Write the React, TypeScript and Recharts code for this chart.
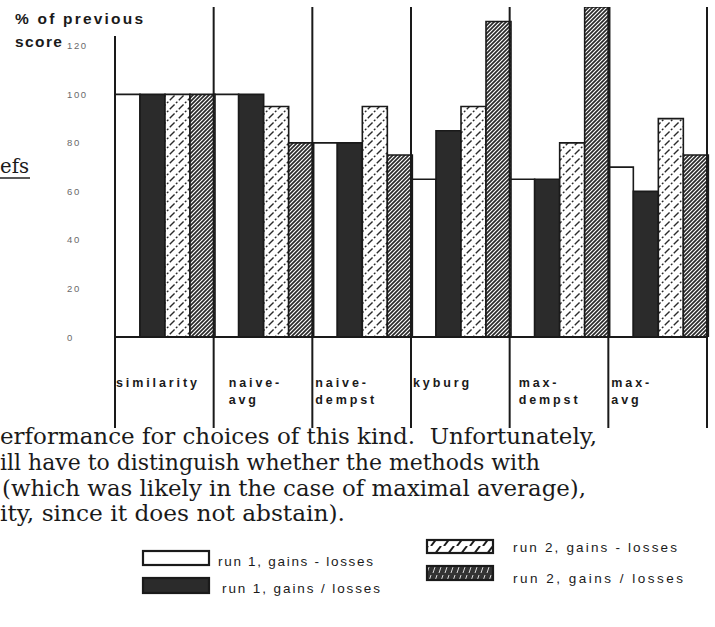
import React from 'react';
import { BarChart, Bar, XAxis, YAxis, Legend } from 'recharts';

// ---------- data ----------
const categories = ['similarity', 'naive-avg', 'naive-dempst', 'kyburg', 'max-dempst', 'max-avg'];
const categoryLabelLines = [
  ['similarity'],
  ['naive-', 'avg'],
  ['naive-', 'dempst'],
  ['kyburg'],
  ['max-', 'dempst'],
  ['max-', 'avg'],
];
const run1GainsMinusLosses = [100, 100, 80, 65, 65, 70];
const run1GainsOverLosses = [100, 100, 80, 85, 65, 60];
const run2GainsMinusLosses = [100, 95, 95, 95, 80, 90];
const run2GainsOverLosses = [100, 80, 75, 130, 136, 75];
const yTicks = [0, 20, 40, 60, 80, 100, 120];
const seriesNames = [
  'run 1, gains - losses',
  'run 1, gains / losses',
  'run 2, gains - losses',
  'run 2, gains / losses',
];
const yTitleLines = ['% of previous', 'score'];
const bodyLines = [
  'erformance for choices of this kind.  Unfortunately,',
  'ill have to distinguish whether the methods with',
  '(which was likely in the case of maximal average),',
  'ity, since it does not abstain).',
];
const sideFragment = 'efs';

const data = categories.map((c, i) => ({
  name: c,
  r1d: run1GainsMinusLosses[i],
  r1r: run1GainsOverLosses[i],
  r2d: run2GainsMinusLosses[i],
  r2r: run2GainsOverLosses[i],
}));

// ---------- layout / style ----------
const W = 715;
const H = 627;
const PLOT_TOP = 7;
const PLOT_BOTTOM = 337;
const PLOT_H = PLOT_BOTTOM - PLOT_TOP;
const labelIndent = [1, 15, 3, 2, 9, 3];
const sansBold = '"Liberation Sans", Arial, sans-serif';
const serif = '"DejaVu Serif", "Liberation Serif", serif';

const CategoryTick = (props: any) => {
  const { x, y, payload, index } = props;
  const half = payload && typeof payload.offset === 'number' && payload.offset > 0 ? payload.offset : 49.3;
  const left = x - half;
  const right = x + half;
  const lines = categoryLabelLines[index] || [String(payload.value)];
  const bottom = y + 91;
  return (
    <g>
      <line
        x1={left}
        x2={left}
        y1={index === 0 ? y - PLOT_H + 29 : y - PLOT_H}
        y2={bottom}
        stroke="#1a1a1a"
        strokeWidth={2}
      />
      {index === categories.length - 1 && (
        <line x1={right} x2={right} y1={y - PLOT_H} y2={bottom} stroke="#1a1a1a" strokeWidth={2} />
      )}
      {lines.map((t, k) => (
        <text
          key={k}
          x={left + labelIndent[index]}
          y={y + 50 + k * 17}
          fontFamily={sansBold}
          fontWeight="bold"
          fontSize={12.5}
          letterSpacing={2.9}
          fill="#1a1a1a"
        >
          {t}
        </text>
      ))}
    </g>
  );
};

const ValueTick = (props: any) => {
  const { y, payload } = props;
  return (
    <text
      x={67}
      y={y + 3.5}
      fontFamily={sansBold}
      fontSize={9.5}
      letterSpacing={1.6}
      fill="#6a6a6a"
    >
      {payload.value}
    </text>
  );
};

const legendBoxes = [
  { x: 143, y: 551, w: 66, h: 14, fill: '#ffffff', tx: 218, ty: 566, tw: 155 },
  { x: 143, y: 578, w: 66, h: 15, fill: '#2b2b2b', tx: 222, ty: 593, tw: 158 },
  { x: 427, y: 540, w: 66, h: 13, fill: 'url(#legHatchLight)', tx: 513, ty: 552, tw: 164 },
  { x: 427, y: 566, w: 66, h: 14, fill: 'url(#legHatchDense)', tx: 513, ty: 583, tw: 170 },
];

const renderLegend = () => (
  <svg width={W} height={H} style={{ position: 'absolute', left: 0, top: 0, overflow: 'visible' }}>
    {seriesNames.map((n, i) => {
      const b = legendBoxes[i];
      return (
        <g key={n}>
          <rect x={b.x} y={b.y} width={b.w} height={b.h} fill={b.fill} stroke="#1a1a1a" strokeWidth={2.2} />
          <text
            x={b.tx}
            y={b.ty}
            fontFamily={sansBold}
            fontSize={13.5}
            fill="#1a1a1a"
            textLength={b.tw}
            lengthAdjust="spacing"
          >
            {n}
          </text>
        </g>
      );
    })}
  </svg>
);

const bodyWidths = [597, 540, 584, 345];
const bodyX = [0, 0, 2, 0];
const bodyBaselines = [444, 470, 496, 521];

export default function App() {
  return (
    <div style={{ position: 'absolute', left: 0, top: 0, width: W, height: H, background: '#fff' }}>
      <svg width={0} height={0} style={{ position: 'absolute' }}>
        <defs>
          <pattern id="hatchLight" width={9} height={9} patternUnits="userSpaceOnUse">
            <rect width={9} height={9} fill="#fff" />
            <path d="M0,9 L9,0 M-1,1 L1,-1 M8,10 L10,8" stroke="#2a2a2a" strokeWidth={1.4} strokeDasharray="5 2 2 2" />
          </pattern>
          <pattern id="hatchDense" width={4} height={4} patternUnits="userSpaceOnUse">
            <rect width={4} height={4} fill="#fff" />
            <path d="M0,4 L4,0 M-1,1 L1,-1 M3,5 L5,3" stroke="#2a2a2a" strokeWidth={1.7} />
          </pattern>
          <pattern id="legHatchLight" width={13} height={13} patternUnits="userSpaceOnUse">
            <rect width={13} height={13} fill="#fff" />
            <path d="M2,13 L12,0" stroke="#1a1a1a" strokeWidth={2} />
          </pattern>
          <pattern id="legHatchDense" width={6} height={14} patternUnits="userSpaceOnUse">
            <rect width={6} height={14} fill="#333" />
            <path d="M1,13 L5,1" stroke="#ddd" strokeWidth={1} />
          </pattern>
        </defs>
      </svg>
      <BarChart
        width={W}
        height={H}
        data={data}
        margin={{ top: PLOT_TOP, right: 8, bottom: H - PLOT_BOTTOM - 30, left: 55 }}
        barCategoryGap={0}
        barGap={0}
      >
        <XAxis
          dataKey="name"
          height={30}
          tickLine={false}
          tickSize={0}
          tickMargin={0}
          axisLine={{ stroke: '#1a1a1a', strokeWidth: 2 }}
          tick={<CategoryTick />}
          interval={0}
        />
        <YAxis
          width={60}
          domain={[0, 136]}
          ticks={yTicks}
          axisLine={false}
          tickLine={false}
          tick={<ValueTick />}
          allowDataOverflow
        />
        <Bar dataKey="r1d" name={seriesNames[0]} fill="#ffffff" stroke="#1a1a1a" strokeWidth={1.6} isAnimationActive={false} />
        <Bar dataKey="r1r" name={seriesNames[1]} fill="#2b2b2b" stroke="#1a1a1a" strokeWidth={1.6} isAnimationActive={false} />
        <Bar dataKey="r2d" name={seriesNames[2]} fill="url(#hatchLight)" stroke="#1a1a1a" strokeWidth={1.6} isAnimationActive={false} />
        <Bar dataKey="r2r" name={seriesNames[3]} fill="url(#hatchDense)" stroke="#1a1a1a" strokeWidth={1.6} isAnimationActive={false} />
        <Legend
          layout="horizontal"
          verticalAlign="middle"
          align="center"
          wrapperStyle={{ left: 0, top: 0, width: W, height: 0, pointerEvents: 'none' }}
          content={renderLegend}
        />
      </BarChart>
      <svg
        width={W}
        height={H}
        style={{ position: 'absolute', left: 0, top: 0, pointerEvents: 'none' }}
      >
        {yTitleLines.map((t, i) => (
          <text
            key={t}
            x={15}
            y={24 + i * 23}
            fontFamily={sansBold}
            fontWeight="bold"
            fontSize={15.5}
            letterSpacing={i === 0 ? 2.2 : 1.4}
            fill="#1a1a1a"
          >
            {t}
          </text>
        ))}
        <text x={0} y={173} fontFamily={serif} fontSize={21} fill="#1a1a1a" textLength={29} lengthAdjust="spacingAndGlyphs">
          {sideFragment}
        </text>
        <line x1={0} x2={30} y1={178} y2={178} stroke="#222" strokeWidth={1.5} />
        {bodyLines.map((t, i) => (
          <text
            key={i}
            x={bodyX[i]}
            y={bodyBaselines[i]}
            fontFamily={serif}
            fontSize={21.5}
            fill="#1a1a1a"
            textLength={bodyWidths[i]}
            lengthAdjust="spacingAndGlyphs"
            style={{ whiteSpace: 'pre' }}
          >
            {t}
          </text>
        ))}
      </svg>
    </div>
  );
}
